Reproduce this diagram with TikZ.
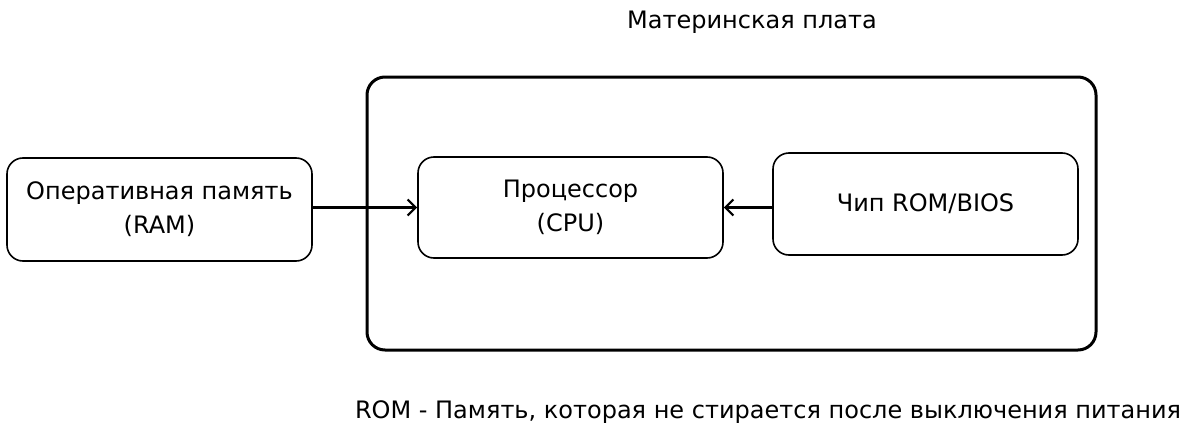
\documentclass[tikz,border=0pt]{standalone}
\usepackage{fontspec}
\setmainfont{DejaVu Sans}
\usetikzlibrary{arrows.meta,positioning}

\newcommand{\labelfont}{\fontsize{24}{34}\selectfont}

\begin{document}
\begin{tikzpicture}[x=1pt, y=-1pt,
  block/.style={draw, rounded corners=16pt, line width=1.6pt, minimum width=305pt,
    minimum height=102pt, align=center, font=\labelfont},
  board/.style={draw, rounded corners=18pt, line width=3pt},
  caption/.style={font=\labelfont},
  link/.style={-{Straight Barb[length=8pt,width=16pt]}, line width=2.2pt}]
  \useasboundingbox (0,0) rectangle (1200,439);

  % плата
  \node[board, minimum width=729pt, minimum height=273pt] (board) at (731.5,213.5) {};
  \node[caption] (title) at (752,22) {Материнская плата};

  % блоки
  \node[block, minimum height=103pt] (ram) at (159.5,209.5) {Оперативная память\\(RAM)};
  \node[block, minimum height=101pt] (cpu) at (570.5,207.5) {Процессор\\(CPU)};
  \node[block] (rom) at (925.5,204) {Чип ROM/BIOS};

  % связи
  \draw[link] (ram.east |- cpu) -- (cpu.west);
  \draw[link] (rom.west |- cpu) -- (cpu.east);

  \node[caption] (note) at (768,412) {ROM - Память, которая не стирается после выключения питания};
\end{tikzpicture}
\end{document}
